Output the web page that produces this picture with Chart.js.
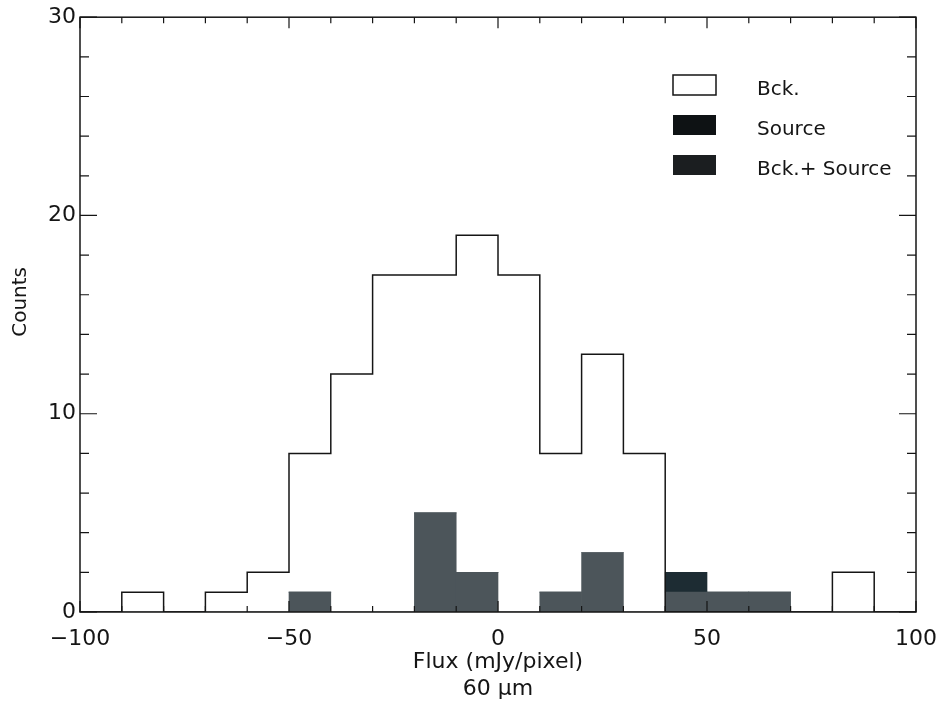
<!DOCTYPE html>
<html>
<head>
<meta charset="utf-8">
<script src="https://cdn.jsdelivr.net/npm/chart.js@4.4.0/dist/chart.umd.min.js"></script>
<style>
  html, body { margin: 0; padding: 0; background: #fff; }
  #wrap { width: 946px; height: 709px; position: relative; }
</style>
</head>
<body>
<div id="wrap"><canvas id="fluxChart"></canvas></div>
<script>
// histogram bins, 10 mJy/pixel wide, centres from -95 to 95
const binCenters = [-95, -85, -75, -65, -55, -45, -35, -25, -15, -5, 5, 15, 25, 35, 45, 55, 65, 75, 85, 95];
const binWidth = 10;

// counts
const bckCounts = [0, 1, 0, 1, 2, 8, 12, 17, 17, 19, 17, 8, 13, 8, 0, 0, 0, 0, 2, 0];
const bothCounts = [0, 0, 0, 0, 0, 1, 0, 0, 5, 2, 0, 1, 3, 0, 1, 1, 1, 0, 0, 0];
const sourceCounts = [0, 0, 0, 0, 0, 0, 0, 0, 0, 0, 0, 0, 0, 0, 1, 0, 0, 0, 0, 0];

const legendLabels = ["Bck.", "Source", "Bck.+ Source"];

const FONT = "'DejaVu Sans', sans-serif";
const INK = "#151515";

// step outline: one point at each left edge, plus the closing right edge
const bckOutline = binCenters.map((c, i) => ({ x: c - binWidth / 2, y: bckCounts[i] }));
bckOutline.push({ x: binCenters[binCenters.length - 1] + binWidth / 2, y: bckCounts[bckCounts.length - 1] });

// frame with inward ticks, like the original plot
const frameTicks = {
  id: "frameTicks",
  afterDraw(chart) {
    const { ctx, chartArea: a, scales } = chart;
    const x = scales.x, y = scales.y;
    ctx.save();
    ctx.strokeStyle = INK;
    ctx.lineWidth = 1.5;
    ctx.strokeRect(a.left, a.top, a.right - a.left, a.bottom - a.top);
    ctx.lineWidth = 1.2;
    ctx.beginPath();
    for (let v = x.min; v <= x.max; v += 10) {
      const px = x.getPixelForValue(v);
      const len = v % 50 === 0 ? 11 : 6;
      ctx.moveTo(px, a.bottom); ctx.lineTo(px, a.bottom - len);
      ctx.moveTo(px, a.top); ctx.lineTo(px, a.top + len);
    }
    for (let v = y.min; v <= y.max; v += 2) {
      const py = y.getPixelForValue(v);
      const len = v % 10 === 0 ? 17 : 9;
      ctx.moveTo(a.left, py); ctx.lineTo(a.left + len, py);
      ctx.moveTo(a.right, py); ctx.lineTo(a.right - len, py);
    }
    ctx.stroke();
    ctx.restore();
  }
};

// legend boxes in the upper right corner
const boxLegend = {
  id: "boxLegend",
  afterDraw(chart) {
    const { ctx } = chart;
    const fills = ["#ffffff", "#0e1214", "#1b1e20"];
    ctx.save();
    ctx.font = "20px " + FONT;
    ctx.textBaseline = "alphabetic";
    ctx.textAlign = "left";
    legendLabels.forEach((label, i) => {
      const base = 95 + i * 40;
      ctx.fillStyle = fills[i];
      ctx.fillRect(673, base - 20, 43, 20);
      if (i === 0) {
        ctx.strokeStyle = INK;
        ctx.lineWidth = 1.5;
        ctx.strokeRect(673, base - 20, 43, 20);
      }
      ctx.fillStyle = INK;
      ctx.fillText(label, 757, base);
    });
    ctx.restore();
  }
};

const data = {
  datasets: [
    {
      type: "line",
      label: legendLabels[0],
      data: bckOutline,
      stepped: true,
      borderColor: INK,
      borderWidth: 1.5,
      pointRadius: 0,
      fill: false,
      stack: "bck",
    },
    {
      type: "bar",
      label: legendLabels[2],
      data: binCenters.map((c, i) => ({ x: c, y: bothCounts[i] })),
      backgroundColor: "#4c555a",
      barPercentage: 1,
      categoryPercentage: 1,
      stack: "flux",
    },
    {
      type: "bar",
      label: legendLabels[1],
      data: binCenters.map((c, i) => ({ x: c, y: sourceCounts[i] })),
      backgroundColor: "#1d2c33",
      barPercentage: 1,
      categoryPercentage: 1,
      stack: "flux",
    },
  ],
};

const config = {
  type: "bar",
  data,
  options: {
    responsive: true,
    maintainAspectRatio: false,
    animation: false,
    layout: { padding: { top: 15, right: 30, left: 0, bottom: 0 } },
    plugins: {
      legend: { display: false },
      tooltip: { enabled: false },
    },
    scales: {
      x: {
        type: "linear",
        min: -100,
        max: 100,
        offset: false,
        // tick marks are drawn by frameTicks; tickLength only pushes the labels down
        grid: { display: false, drawTicks: true, tickLength: 11 },
        border: { display: false },
        ticks: {
          stepSize: 50,
          maxRotation: 0,
          padding: 3,
          color: INK,
          font: { family: FONT, size: 22 },
          callback: (v) => (v < 0 ? "\u2212" + Math.abs(v) : String(v)),
        },
        title: {
          display: true,
          text: ["Flux (mJy/pixel)", "60 \u03bcm"],
          color: INK,
          font: { family: FONT, size: 22 },
          padding: { top: 0, bottom: 7 },
        },
        afterFit: (scale) => { scale.height = 97; },
      },
      y: {
        min: 0,
        max: 30,
        stacked: true,
        grid: { display: false, drawTicks: false },
        border: { display: false },
        ticks: {
          stepSize: 10,
          padding: 4,
          color: INK,
          font: { family: FONT, size: 22 },
        },
        title: {
          display: true,
          text: "    Counts",
          color: INK,
          font: { family: FONT, size: 20 },
          padding: { top: 9, bottom: 0 },
        },
        afterFit: (scale) => { scale.width = 80; },
      },
    },
  },
  plugins: [frameTicks, boxLegend],
};

const fluxChart = new Chart(document.getElementById("fluxChart"), config);
</script>
</body>
</html>
